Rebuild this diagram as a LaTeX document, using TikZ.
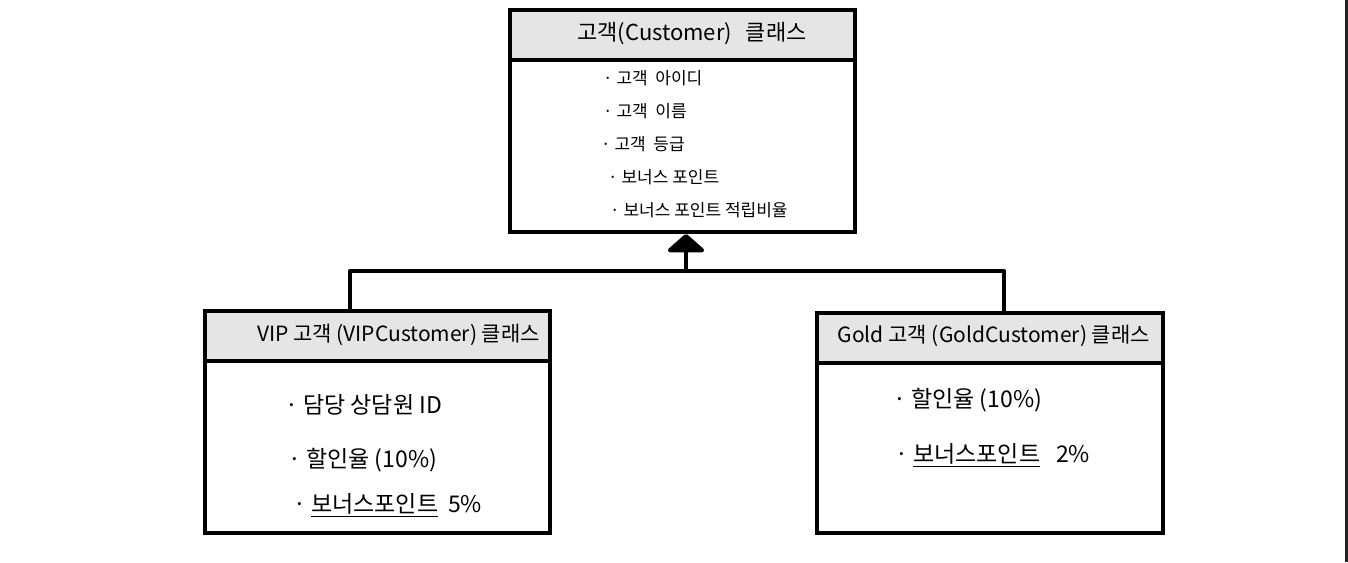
\documentclass[tikz,border=0pt]{standalone}
\usepackage{fontspec}
\setmainfont{Noto Sans CJK KR}
\usetikzlibrary{arrows.meta}
\tikzset{
  boxline/.style={draw=black, line width=4pt},
  hdrbox/.style={boxline, fill=black!10, anchor=north west, inner sep=0pt},
  bodybox/.style={boxline, fill=white, anchor=north west, inner sep=0pt},
  hdrtext/.style={font=\fontsize{21}{24}\selectfont, anchor=center, inner sep=0pt},
  item/.style={font=\fontsize{17}{20}\selectfont, anchor=west, inner sep=0pt},
  bigitem/.style={font=\fontsize{23}{26}\selectfont, anchor=west, inner sep=0pt},
  conn/.style={draw=black, line width=4pt, line cap=round, line join=round},
}
\begin{document}
\begin{tikzpicture}[x=1pt,y=-1pt]
\useasboundingbox (0,0) rectangle (1348,562);
\fill[white] (0,0) rectangle (1348,562);
% right edge rule
\draw[line width=3pt, draw=black!87] (1346,0) -- (1346,562);

% Customer
\node[bodybox, minimum width=345pt, minimum height=172pt] (topB) at (508,58) {};
\node[hdrbox, minimum width=345pt, minimum height=50pt] (topH) at (508,8) {};
\node[hdrtext, font=\fontsize{22}{25}\selectfont] (topT) at (692,34) {고객(Customer)\hspace{14pt}클래스};
\node[item] (t1) at (603,78) {· 고객\ \ 아이디};
\node[item] (t2) at (603,111) {· 고객\ \ 이름};
\node[item] (t3) at (601,144) {· 고객\ \ 등급};
\node[item] (t4) at (608,177) {· 보너스 포인트};
\node[item] (t5) at (610,210) {· 보너스 포인트 적립비율};

% VIP
\node[bodybox, minimum width=345pt, minimum height=172pt] (vipB) at (203,359) {};
\node[hdrbox, minimum width=345pt, minimum height=50pt] (vipH) at (203,309) {};
\node[hdrtext, anchor=east] (vipT) at (540,335) {VIP 고객 (VIPCustomer) 클래스};
\node[bigitem] (v1) at (285,405) {· 담당 상담원 ID};
\node[bigitem] (v2) at (288,460) {· 할인율 (10\%)};
\node[bigitem] (v3) at (293,505) {· \underline{보너스포인트}\hspace{10pt}5\%};

% Gold
\node[bodybox, minimum width=346pt, minimum height=170pt] (goldB) at (815,361) {};
\node[hdrbox, minimum width=346pt, minimum height=50pt] (goldH) at (815,311) {};
\node[hdrtext, anchor=east] (goldT) at (1150,336) {Gold 고객 (GoldCustomer) 클래스};
\node[bigitem] (g1) at (893,400) {· 할인율 (10\%)};
\node[bigitem] (g2) at (895,455) {· \underline{보너스포인트}\hspace{16pt}2\%};

% inheritance connector
\coordinate (jl) at (350,271);
\coordinate (jm) at (686,271);
\coordinate (jr) at (1004,271);
\draw[conn] (jl |- vipH.north) -- (jl) -- (jr) -- (jr |- goldH.north);
\draw[conn, -{Triangle[width=42pt,length=19pt,round]}] (jm) -- (jm |- topB.south);
\end{tikzpicture}
\end{document}
